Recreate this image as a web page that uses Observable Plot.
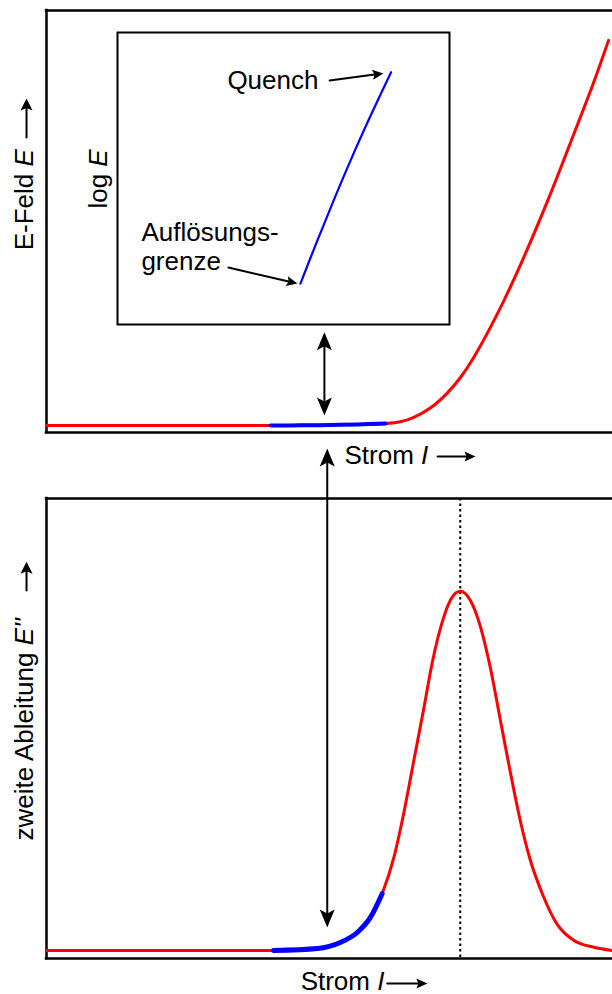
<!DOCTYPE html>
<html>
<head>
<meta charset="utf-8">
<script src="https://cdn.jsdelivr.net/npm/d3@7"></script>
<script src="https://cdn.jsdelivr.net/npm/@observablehq/plot@0.6"></script>
<style>
  html, body { margin: 0; padding: 0; background: #fff; }
  #fig { position: relative; width: 612px; height: 994px; overflow: hidden; }
  #fig svg { position: absolute; overflow: visible; }
</style>
</head>
<body>
<div id="fig"></div>
<script>
// ---- Top panel: electric field E versus current I (arbitrary units) ----
const fieldCurrent = [0, 20, 39.6, 45, 50, 55, 59.9, 62.5, 64.8, 68, 70.8, 73.1, 75.4, 79.7, 83.7, 88.5, 93.1, 96.6, 99.3];
const fieldValue   = [0, 0, 0, 0.02, 0.1, 0.25, 0.47, 0.9, 1.9, 4.4, 7.8, 11.5, 16.2, 27.0, 38.6, 54.0, 70.0, 82.4, 92.8];
const fieldResolved = [39.6, 59.9];          // current range below the resolution limit (blue)

// ---- Inset: log E versus log I ----
const logCurrent = [5.51, 6.01, 6.53, 7.07, 7.64, 8.24];
const logField   = [1.40, 2.85, 4.30, 5.75, 7.19, 8.64];

// ---- Bottom panel: second derivative E'' versus current I ----
const derivCurrent = [0, 20, 40.1, 47.9, 51.9, 54.9, 57.2, 59.3, 61.4, 63.1, 64.9, 66.7, 68.1, 70.2, 71.7, 73.1,
                      74.9, 76.7, 78.4, 80.2, 82.0, 83.7, 85.5, 87.6, 90.2, 93.2, 96.7, 100];
const derivValue   = [0, 0, 0, 0.25, 1.0, 2.25, 4.1, 7.1, 11.7, 17.1, 23.75, 30.4, 35.8, 41.7, 44.2, 44.9,
                      43.75, 40.4, 35.4, 28.75, 22.1, 16.25, 11.25, 7.1, 3.3, 1.25, 0.4, 0];
const derivResolved = [40.1, 59.3];

// ---- Texts (words between * are set in italics) ----
const fieldLabel   = "E-Feld *E*";
const derivLabel   = "zweite Ableitung *E''*";
const currentLabel = "Strom *I*";
const insetLabel   = "log *E*";
const quenchLabel  = "Quench";
const limitLabel   = "Auflösungs-\ngrenze";

// ---- Annotation anchors, in each panel's data units: [x, y] ----
const topFieldLabelAt   = [-2.3, 42.2];
const topCurrentLabelAt = [52.65, -9.41];
const topCurrentArrow   = [69.1, 75.8, -7.48];          // x1, x2, y
const topFieldArrow     = [-3.53, 69.4, 78.8];          // x, y1, y2
const topGapArrow       = [49.1, 22.47, 2.4];           // x, y1, y2 (two-headed)

const insetLabelAt   = [-0.31, 3.97];
const quenchAt       = [3.31, 8.05];
const limitAt        = [0.72, 1.85];
const quenchArrow    = [6.39, 8.36, 8.01, 8.60];        // x1, y1, x2, y2
const limitArrow     = [3.34, 1.95, 5.42, 1.40];

const bottomDerivLabelAt   = [-2.3, 13.75];
const bottomCurrentLabelAt = [44.9, -4.875];
const bottomCurrentArrow   = [60.2, 67.3, -4.125];
const bottomDerivArrow     = [-3.53, 45, 48.6];
const bottomLongArrow      = [49.6, 62.75, 2.875];

const font = '"Liberation Sans", Arial, Helvetica, sans-serif';
const textSize = 26;
const RED = "#ff0000", BLUE = "#0000ff";

const fieldData = fieldCurrent.map((I, i) => ({I, E: fieldValue[i]}));
const derivData = derivCurrent.map((I, i) => ({I, E: derivValue[i]}));
const logData = logCurrent.map((I, i) => ({I, E: logField[i]}));
const peakCurrent = derivCurrent[d3.maxIndex(derivValue)];

// filled arrowhead with its tip at the origin, pointing along `angle` (degrees, screen space)
function head(angle, len, half, notch) {
  const a = angle * Math.PI / 180, ux = Math.cos(a), uy = Math.sin(a), px = -uy, py = ux;
  return {
    draw(ctx) {
      ctx.moveTo(0, 0);
      ctx.lineTo(-len * ux + half * px, -len * uy + half * py);
      ctx.lineTo(-(len - notch) * ux, -(len - notch) * uy);
      ctx.lineTo(-len * ux - half * px, -len * uy - half * py);
      ctx.closePath();
    }
  };
}
const BIG = {len: 18, half: 7.5, notch: 4};
const MID = {len: 12, half: 6, notch: 2.5};
const SMALL = {len: 11, half: 5, notch: 2};

function arrowMarks(list, sx, sy) {
  const marks = [];
  for (const d of list) {
    const ang = Math.atan2(sy.apply(d.y2) - sy.apply(d.y1), sx.apply(d.x2) - sx.apply(d.x1)) * 180 / Math.PI;
    const s = d.size, inset = s.len - s.notch;
    marks.push(Plot.arrow([d], {x1: "x1", y1: "y1", x2: "x2", y2: "y2", headLength: 0,
      stroke: "black", strokeWidth: 2, insetEnd: inset, insetStart: d.twoWay ? inset : 0}));
    marks.push(Plot.dot([d], {x: "x2", y: "y2", symbol: head(ang, s.len, s.half, s.notch), fill: "black", stroke: "none"}));
    if (d.twoWay) marks.push(Plot.dot([d], {x: "x1", y: "y1", symbol: head(ang + 180, s.len, s.half, s.notch), fill: "black", stroke: "none"}));
  }
  return marks;
}

function italicize(svg) {
  svg.querySelectorAll("text, tspan").forEach((el) => {
    if (el.children.length) return;
    const s = el.textContent;
    if (!s.includes("*")) return;
    el.textContent = "";
    s.split("*").forEach((part, i) => {
      if (!part) return;
      const t = document.createElementNS("http://www.w3.org/2000/svg", "tspan");
      if (i % 2) t.setAttribute("font-style", "italic");
      t.textContent = part;
      el.appendChild(t);
    });
  });
}

const fig = document.getElementById("fig");
function place(spec, arrows, top, left) {
  const base = Plot.plot(spec);
  const sx = base.scale("x"), sy = base.scale("y");
  const svg = Plot.plot({...spec, marks: [...spec.marks, ...arrowMarks(arrows, sx, sy)]});
  svg.style.top = top + "px";
  svg.style.left = left + "px";
  italicize(svg);
  fig.appendChild(svg);
}

const style = {background: "transparent", overflow: "visible", fontFamily: font, color: "black"};
const frameStyle = {stroke: "black", strokeWidth: 2.5, strokeLinecap: "square"};
const txt = (at, text, extra = {}) =>
  Plot.text([at], {x: (d) => d[0], y: (d) => d[1], text: () => text, fontSize: textSize,
    textAnchor: "start", lineAnchor: "bottom", fill: "black", ...extra});

// ---- Top panel ----
const topY = [-1.7, 100];
place({
  width: 612, height: 470, marginTop: 10, marginBottom: 38, marginLeft: 46, marginRight: 0,
  x: {domain: [0, 100], axis: null},
  y: {domain: topY, axis: null},
  style,
  marks: [
    Plot.ruleY([topY[1]], frameStyle),
    Plot.ruleY([topY[0]], frameStyle),
    Plot.ruleX([0], frameStyle),
    Plot.line(fieldData, {x: "I", y: "E", stroke: RED, strokeWidth: 3, curve: "catmull-rom"}),
    Plot.line(fieldData.filter((d) => d.I >= fieldResolved[0] && d.I <= fieldResolved[1]),
      {x: "I", y: "E", stroke: BLUE, strokeWidth: 4, curve: "catmull-rom"}),
    txt(topFieldLabelAt, fieldLabel, {rotate: -90}),
    txt(topCurrentLabelAt, currentLabel)
  ]
}, [
  {x1: topCurrentArrow[0], x2: topCurrentArrow[1], y1: topCurrentArrow[2], y2: topCurrentArrow[2], size: SMALL},
  {x1: topFieldArrow[0], x2: topFieldArrow[0], y1: topFieldArrow[1], y2: topFieldArrow[2], size: MID},
  {x1: topGapArrow[0], x2: topGapArrow[0], y1: topGapArrow[1], y2: topGapArrow[2], size: BIG, twoWay: true}
], 0, 0);

// ---- Inset: log E ----
place({
  width: 460, height: 335, marginTop: 32, marginBottom: 11, marginLeft: 117, marginRight: 11,
  x: {domain: [0, 10], axis: null},
  y: {domain: [0, 10], axis: null},
  style,
  marks: [
    Plot.frame({stroke: "black", strokeWidth: 2}),
    Plot.line(logData, {x: "I", y: "E", stroke: BLUE, strokeWidth: 2.2, curve: "catmull-rom"}),
    txt(insetLabelAt, insetLabel, {rotate: -90}),
    txt(quenchAt, quenchLabel),
    txt(limitAt, limitLabel, {lineHeight: 1.115})
  ]
}, [
  {x1: quenchArrow[0], y1: quenchArrow[1], x2: quenchArrow[2], y2: quenchArrow[3], size: SMALL},
  {x1: limitArrow[0], y1: limitArrow[1], x2: limitArrow[2], y2: limitArrow[3], size: SMALL}
], 0, 0);

// ---- Bottom panel: second derivative ----
const bottomY = [-1, 56.5];
place({
  width: 612, height: 554, marginTop: 58, marginBottom: 36, marginLeft: 46, marginRight: 0,
  x: {domain: [0, 100], axis: null},
  y: {domain: bottomY, axis: null},
  style,
  marks: [
    Plot.ruleY([bottomY[1]], frameStyle),
    Plot.ruleY([bottomY[0]], frameStyle),
    Plot.ruleX([0], frameStyle),
    Plot.ruleX([peakCurrent], {stroke: "black", strokeWidth: 2, strokeDasharray: "2.5,3"}),
    Plot.line(derivData, {x: "I", y: "E", stroke: RED, strokeWidth: 3, curve: "monotone-x"}),
    Plot.line(derivData.filter((d) => d.I >= derivResolved[0] && d.I <= derivResolved[1]),
      {x: "I", y: "E", stroke: BLUE, strokeWidth: 5, curve: "monotone-x"}),
    txt(bottomDerivLabelAt, derivLabel, {rotate: -90}),
    txt(bottomCurrentLabelAt, currentLabel)
  ]
}, [
  {x1: bottomCurrentArrow[0], x2: bottomCurrentArrow[1], y1: bottomCurrentArrow[2], y2: bottomCurrentArrow[2], size: SMALL},
  {x1: bottomDerivArrow[0], x2: bottomDerivArrow[0], y1: bottomDerivArrow[1], y2: bottomDerivArrow[2], size: MID},
  {x1: bottomLongArrow[0], x2: bottomLongArrow[0], y1: bottomLongArrow[1], y2: bottomLongArrow[2], size: BIG, twoWay: true}
], 440, 0);
</script>
</body>
</html>
